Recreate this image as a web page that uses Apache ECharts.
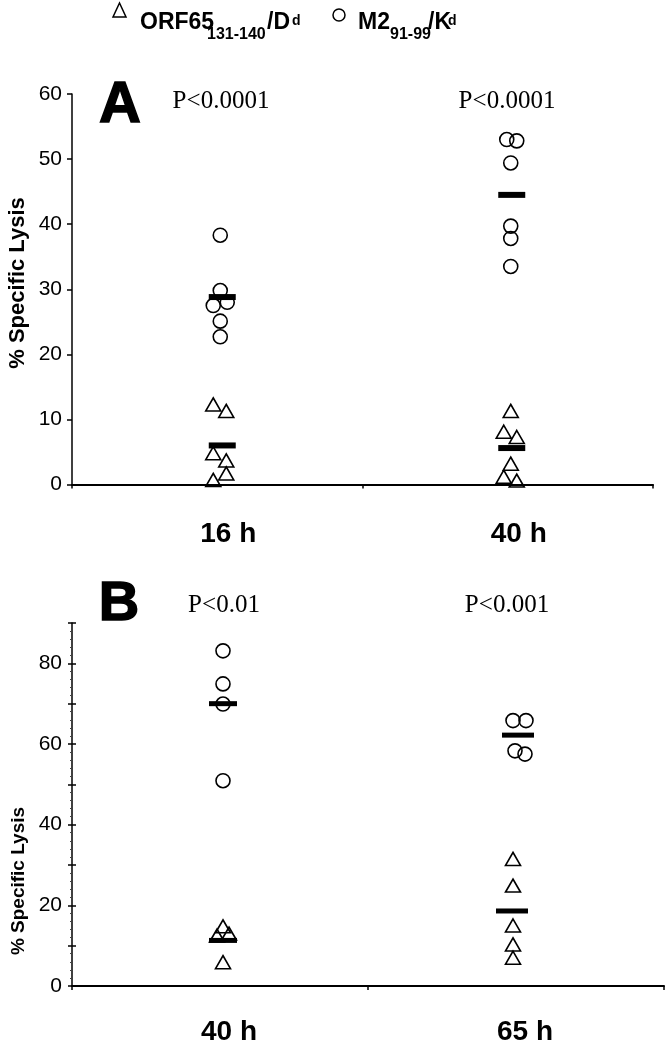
<!DOCTYPE html>
<html>
<head>
<meta charset="utf-8">
<script src="https://cdn.jsdelivr.net/npm/echarts@6/dist/echarts.min.js"></script>
<style>html,body{margin:0;padding:0;background:#fff;}#c{width:665px;height:1050px;}</style>
</head>
<body>
<div id="c"></div>
<script>
// ---------- DATA ----------
const categoriesA = ['16 h', '40 h'];
const categoriesB = ['40 h', '65 h'];
const pValuesA = ['P<0.0001', 'P<0.0001'];
const pValuesB = ['P<0.01', 'P<0.001'];

// Panel A (% specific lysis)
const a16_orf65 = [12.3, 11.3, 4.8, 3.7, 1.7, 0.7];
const a16_m2    = [38.3, 29.8, 28.0, 27.5, 25.1, 22.7];
const a40_orf65 = [11.3, 8.1, 7.3, 3.2, 1.2, 0.6];
const a40_m2    = [53.0, 52.8, 49.4, 39.7, 37.8, 33.5];
const meanA_orf65 = [6.0, 5.6];
const meanA_m2    = [28.8, 44.5];

// Panel B
const b40_orf65 = [14.8, 13.0, 12.5, 5.9];
const b40_m2    = [83.1, 74.9, 69.9, 50.9];
const b65_orf65 = [31.5, 24.9, 15.0, 10.3, 7.0];
const b65_m2    = [65.8, 65.8, 58.3, 57.5];
const meanB_orf65 = [11.3, 18.6];
const meanB_m2    = [70.0, 62.2];

// ---------- STYLE (horizontal jitter in px) ----------
const jA16orf = [-4, 9, -4, 9, 9, -4];
const jA16m2  = [3, 3, 10, -4, 3, 3];
const jA40orf = [3, -4, 9, 3, -4, 9];
const jA40m2  = [-1, 9, 3, 3, 3, 3];
const jB40orf = [3, 9, -3, 3];
const jB40m2  = [3, 3, 3, 3];
const jB65orf = [-3, -3, -3, -3, -3];
const jB65m2  = [-3, 10, -1, 9];
const jMeanA = [5, 4];
const jMeanB40 = 3, jMeanB65orf = -4, jMeanB65m2 = 2;

function pts(cat, vals, offs) {
  return vals.map((v, i) => ({ value: [cat, v], symbolOffset: [offs[i], 0] }));
}
function means(cats, vals, offs) {
  return vals.map((v, i) => ({ value: [cats[i], v], symbolOffset: [offs[i], 0] }));
}

const openStyle = { color: 'rgba(0,0,0,0)', borderColor: '#000', borderWidth: 1.6, opacity: 1 };
const barStyle = { color: '#000', opacity: 1 };
const triSize = [15, 13];
const circSize = 14;

const chart = echarts.init(document.getElementById('c'), null, { renderer: 'canvas' });

const xAxisCommon = {
  type: 'category',
  boundaryGap: true,
  axisLine: { lineStyle: { color: '#000', width: 2 } },
  axisTick: { show: true, length: 4, interval: 0, lineStyle: { color: '#000', width: 1.5 } },
  axisLabel: { color: '#000', fontFamily: 'Arial, Liberation Sans', fontWeight: 'bold', fontSize: 28, padding: [0, 0, 0, 22] },
  splitLine: { show: false }
};

const option = {
  animation: false,
  backgroundColor: '#fff',
  grid: [
    { left: 72, top: 94, width: 581, height: 390.5 },
    { left: 72, top: 623, width: 592, height: 363 }
  ],
  xAxis: [
    Object.assign({}, xAxisCommon, { gridIndex: 0, data: categoriesA, axisLabel: Object.assign({}, xAxisCommon.axisLabel, { margin: 36 }) }),
    Object.assign({}, xAxisCommon, { gridIndex: 1, data: categoriesB, axisLabel: Object.assign({}, xAxisCommon.axisLabel, { margin: 32, padding: [0, 0, 0, 18] }) })
  ],
  yAxis: [
    {
      type: 'value', gridIndex: 0, min: 0, max: 60, interval: 10,
      axisLine: { show: true, lineStyle: { color: '#000', width: 1.5 } },
      axisTick: { show: true, length: 5, lineStyle: { color: '#000', width: 1.5 } },
      axisLabel: { color: '#000', fontFamily: 'Arial, Liberation Sans', fontSize: 21, margin: 10 },
      splitLine: { show: false }
    },
    {
      type: 'value', gridIndex: 1, min: 0, max: 90, interval: 10, position: 'left',
      axisLine: { show: true, lineStyle: { color: '#000', width: 1.5 } },
      axisTick: { show: true, length: 4, lineStyle: { color: '#000', width: 1.5 } },
      minorTick: { show: true, splitNumber: 5, length: 2, lineStyle: { color: '#444', width: 1 } },
      axisLabel: {
        color: '#000', fontFamily: 'Arial, Liberation Sans', fontSize: 21, margin: 10,
        formatter: v => (v % 20 === 0 ? String(v) : '')
      },
      splitLine: { show: false }
    },
    {
      type: 'value', gridIndex: 1, min: 0, max: 90, interval: 10, position: 'left', offset: 0,
      axisLine: { show: false },
      axisTick: { show: true, inside: true, length: 4, lineStyle: { color: '#000', width: 1.5 } },
      axisLabel: { show: false },
      splitLine: { show: false }
    }
  ],
  series: [
    // Panel A
    { name: 'ORF65 A', type: 'scatter', xAxisIndex: 0, yAxisIndex: 0, symbol: 'triangle', symbolSize: triSize,
      itemStyle: openStyle, z: 3,
      data: pts(categoriesA[0], a16_orf65, jA16orf).concat(pts(categoriesA[1], a40_orf65, jA40orf)) },
    { name: 'M2 A', type: 'scatter', xAxisIndex: 0, yAxisIndex: 0, symbol: 'circle', symbolSize: circSize,
      itemStyle: openStyle, z: 3,
      data: pts(categoriesA[0], a16_m2, jA16m2).concat(pts(categoriesA[1], a40_m2, jA40m2)) },
    { name: 'Mean A', type: 'scatter', xAxisIndex: 0, yAxisIndex: 0, symbol: 'rect', symbolSize: [27, 6],
      itemStyle: barStyle, z: 4,
      data: means(categoriesA, meanA_orf65, jMeanA).concat(means(categoriesA, meanA_m2, jMeanA)) },
    // Panel B
    { name: 'ORF65 B', type: 'scatter', xAxisIndex: 1, yAxisIndex: 1, symbol: 'triangle', symbolSize: triSize,
      itemStyle: openStyle, z: 3,
      data: pts(categoriesB[0], b40_orf65, jB40orf).concat(pts(categoriesB[1], b65_orf65, jB65orf)) },
    { name: 'M2 B', type: 'scatter', xAxisIndex: 1, yAxisIndex: 1, symbol: 'circle', symbolSize: circSize,
      itemStyle: openStyle, z: 3,
      data: pts(categoriesB[0], b40_m2, jB40m2).concat(pts(categoriesB[1], b65_m2, jB65m2)) },
    { name: 'Mean B', type: 'scatter', xAxisIndex: 1, yAxisIndex: 1, symbol: 'rect', symbolSize: [28, 5],
      itemStyle: barStyle, z: 4,
      data: [
        { value: [categoriesB[0], meanB_orf65[0]], symbolOffset: [jMeanB40, 0], symbolSize: [28, 5] },
        { value: [categoriesB[1], meanB_orf65[1]], symbolOffset: [jMeanB65orf, 0], symbolSize: [32, 5] },
        { value: [categoriesB[0], meanB_m2[0]], symbolOffset: [jMeanB40, 0], symbolSize: [28, 5] },
        { value: [categoriesB[1], meanB_m2[1]], symbolOffset: [jMeanB65m2, 0], symbolSize: [32, 5] }
      ] }
  ],
  graphic: [
    // legend
    { type: 'polygon', shape: { points: [[119.5, 3], [113, 17], [126, 17]] }, style: { fill: 'none', stroke: '#000', lineWidth: 1.5 } },
    { type: 'text', style: { text: 'ORF65', x: 140, y: 34, font: 'bold 23px Arial, Liberation Sans', fill: '#000', textAlign: 'left', textVerticalAlign: 'bottom', align: 'left', verticalAlign: 'bottom' } },
    { type: 'text', style: { text: '131-140', x: 207, y: 43, font: 'bold 16px Arial, Liberation Sans', fill: '#000', textAlign: 'left', textVerticalAlign: 'bottom', align: 'left', verticalAlign: 'bottom' } },
    { type: 'text', style: { text: '/D', x: 267, y: 34, font: 'bold 23px Arial, Liberation Sans', fill: '#000', textAlign: 'left', textVerticalAlign: 'bottom', align: 'left', verticalAlign: 'bottom' } },
    { type: 'text', style: { text: 'd', x: 292, y: 28, font: 'bold 14px Arial, Liberation Sans', fill: '#000', textAlign: 'left', textVerticalAlign: 'bottom', align: 'left', verticalAlign: 'bottom' } },
    { type: 'circle', shape: { cx: 339, cy: 15, r: 6 }, style: { fill: 'none', stroke: '#000', lineWidth: 1.5 } },
    { type: 'text', style: { text: 'M2', x: 358, y: 34, font: 'bold 23px Arial, Liberation Sans', fill: '#000', textAlign: 'left', textVerticalAlign: 'bottom', align: 'left', verticalAlign: 'bottom' } },
    { type: 'text', style: { text: '91-99', x: 390, y: 43, font: 'bold 16px Arial, Liberation Sans', fill: '#000', textAlign: 'left', textVerticalAlign: 'bottom', align: 'left', verticalAlign: 'bottom' } },
    { type: 'text', style: { text: '/K', x: 428, y: 34, font: 'bold 23px Arial, Liberation Sans', fill: '#000', textAlign: 'left', textVerticalAlign: 'bottom', align: 'left', verticalAlign: 'bottom' } },
    { type: 'text', style: { text: 'd', x: 448, y: 28, font: 'bold 14px Arial, Liberation Sans', fill: '#000', textAlign: 'left', textVerticalAlign: 'bottom', align: 'left', verticalAlign: 'bottom' } },
    // panel letters
    { type: 'text', style: { text: 'A', x: 120, y: 106, font: '900 58px Arial, Liberation Sans', fill: '#000', stroke: '#000', lineWidth: 1.5, textAlign: 'center', textVerticalAlign: 'middle', align: 'center', verticalAlign: 'middle' } },
    { type: 'text', style: { text: 'B', x: 119, y: 605, font: '900 56px Arial, Liberation Sans', fill: '#000', stroke: '#000', lineWidth: 1.5, textAlign: 'center', textVerticalAlign: 'middle', align: 'center', verticalAlign: 'middle' } },
    // p-values
    { type: 'text', style: { text: pValuesA[0], x: 221, y: 101, font: '25px "Liberation Serif", "Times New Roman", serif', fill: '#000', textAlign: 'center', textVerticalAlign: 'middle', align: 'center', verticalAlign: 'middle' } },
    { type: 'text', style: { text: pValuesA[1], x: 507, y: 101, font: '25px "Liberation Serif", "Times New Roman", serif', fill: '#000', textAlign: 'center', textVerticalAlign: 'middle', align: 'center', verticalAlign: 'middle' } },
    { type: 'text', style: { text: pValuesB[0], x: 224, y: 605, font: '25px "Liberation Serif", "Times New Roman", serif', fill: '#000', textAlign: 'center', textVerticalAlign: 'middle', align: 'center', verticalAlign: 'middle' } },
    { type: 'text', style: { text: pValuesB[1], x: 507, y: 605, font: '25px "Liberation Serif", "Times New Roman", serif', fill: '#000', textAlign: 'center', textVerticalAlign: 'middle', align: 'center', verticalAlign: 'middle' } },
    // y axis titles
    { type: 'text', x: 18, y: 283, rotation: Math.PI / 2, style: { text: '% Specific Lysis', x: 0, y: 0, font: 'bold 22px Arial, Liberation Sans', fill: '#000', textAlign: 'center', textVerticalAlign: 'middle', align: 'center', verticalAlign: 'middle' } },
    { type: 'text', x: 19, y: 881, rotation: Math.PI / 2, style: { text: '% Specific Lysis', x: 0, y: 0, font: 'bold 19px Arial, Liberation Sans', fill: '#000', textAlign: 'center', textVerticalAlign: 'middle', align: 'center', verticalAlign: 'middle' } }
  ]
};
chart.setOption(option);
</script>
</body>
</html>
